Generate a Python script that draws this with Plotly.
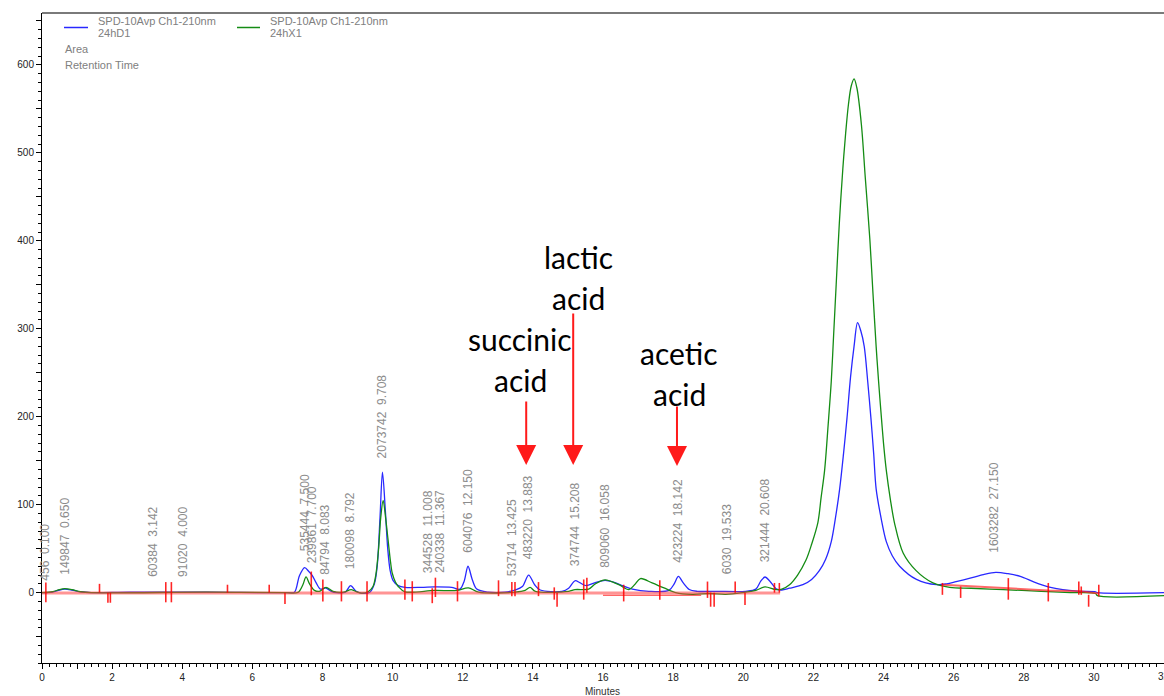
import plotly.graph_objects as go

# ---------------- data ----------------
# Blue trace: SPD-10Avp Ch1-210nm 24hD1  (time in minutes, signal)
blue_t = [0.0, 0.3, 0.5, 0.65, 0.85, 1.1, 1.4, 2.5, 4.7, 7.0, 7.2, 7.34, 7.49, 7.61, 7.70, 7.82, 7.94,
          8.08, 8.25, 8.4, 8.65, 8.8, 8.96, 9.1, 9.35, 9.48, 9.56, 9.64, 9.71, 9.79, 9.86, 9.93, 10.01,
          10.16, 10.35, 10.82, 11.2, 11.68, 11.92, 12.04, 12.15, 12.27, 12.4, 12.73, 13.2, 13.49, 13.7,
          13.88, 14.05, 14.21, 14.83, 15.02, 15.2, 15.35, 15.52, 15.78, 16.06, 16.3, 16.55, 16.84, 17.31,
          17.88, 18.03, 18.15, 18.29, 18.46, 18.69, 19.22, 20.07, 20.36, 20.5, 20.62, 20.76, 20.95, 21.1,
          21.32, 21.70, 21.95, 22.17, 22.35, 22.51, 22.63, 22.75, 22.86, 22.96, 23.06, 23.16, 23.26,
          23.35, 23.45, 23.55, 23.64, 23.72, 23.79, 23.93, 24.08, 24.25, 24.46,
          24.94, 25.51, 25.8, 26.07, 26.47, 26.85, 27.2, 27.55, 27.9, 28.3, 28.7, 28.94, 29.3, 29.6,
          30.05, 30.1, 32.0]
blue_v = [0, 0.5, 3, 4, 3, 1, 0, 0.5, 0.5, 0, 0.5, 19, 28.5, 24, 20, 11, 4,
          5.5, 1.5, 0, 0.5, 8, 1.5, -0.5, 0.5, 10, 30, 85, 137, 95, 50, 25, 14,
          8, 6, 6, 6.5, 6, 4, 13, 30, 15, 4, 0.5, 0.5, 3, 7,
          20, 9, 3, 1.5, 5, 13.5, 11, 8, 11.5, 14, 12, 8, 4, 1.5,
          2.5, 10, 18.5, 11, 3.5, 1.5, 1.5, 1.5, 4, 13, 17.8, 13, 4, 3,
          5, 9, 15, 25, 38, 58, 85, 118, 158, 199, 245, 280, 307,
          298, 280, 240, 199, 158, 118, 85, 58, 42, 30,
          15, 9, 10, 12.5, 16.5, 20.5, 23, 21.5, 18.5, 12, 6.5, 4.5, 2.5, 1.5,
          1, 0, 0]

# Green trace: SPD-10Avp Ch1-210nm 24hX1
green_t = [0.0, 0.3, 0.5, 0.65, 0.85, 1.1, 1.4, 4.7, 6.9, 7.3, 7.44, 7.53, 7.63, 7.77, 7.91, 8.1, 8.3,
           8.6, 8.82, 9.0, 9.1, 9.3, 9.44, 9.52, 9.6, 9.66, 9.73, 9.8, 9.87, 9.94, 9.99, 10.08, 10.16,
           10.35, 11.2, 11.83, 12.16, 12.45, 13.5, 13.78, 13.92, 14.07, 15.02, 15.2, 15.59, 15.78, 16.06,
           16.45, 16.74, 16.9, 17.07, 17.4, 17.74, 18.07, 18.55, 19.03, 19.5, 19.98, 20.36, 20.62, 20.93,
           21.1, 21.32, 21.55, 21.79, 21.95, 22.13, 22.22, 22.32, 22.42, 22.51, 22.58, 22.65, 22.74,
           22.84, 22.92, 23.0, 23.08, 23.16, 23.24, 23.37, 23.48, 23.61, 23.70, 23.79, 23.86, 23.94,
           24.0, 24.08, 24.2, 24.32, 24.56, 24.93, 25.41, 25.89, 26.5, 27.42, 28.5, 29.33,
           30.05, 30.1, 32.0]
green_v = [0, 1, 3.5, 4.5, 3.5, 1, 0, 0.5, 0, 0.3, 9, 18, 10, 2.6, 1.5, 6, 1.5,
           0.5, 3.4, 0.5, -0.5, 1, 7, 20, 50, 85, 105, 85, 60, 35, 22, 12, 7,
           1, 2.5, 2.5, 5.5, 0.5, 0.5, 2.5, 6, 1.5, 1.5, 3.4, 4, 10, 14.5,
           9, 3.5, 9, 16, 11, 5.3, 0, -2, -1, -2, 0, 2.6, 6.5, 3.4,
           4, 9, 20, 37, 55, 80, 108, 139, 190, 240, 295, 350, 420,
           482, 522, 555, 576, 584, 574, 532, 472, 402, 340, 280, 240, 199,
           170, 139, 105, 78, 45, 25, 11, 6, 5, 3.4, 1.5, 0,
           -1, -3.5, -3.5]

# Integration markers (time, lower end, upper end)
mark_t = [0.11, 1.64, 1.88, 1.95, 3.53, 3.69, 5.29, 6.48, 6.93, 7.68, 8.01, 8.54, 9.27, 10.35,
          10.56, 11.13, 11.22, 11.85, 13.02, 13.40, 13.49, 14.16, 14.61, 14.69, 15.45, 15.54, 16.59,
          17.62, 18.98, 19.07, 19.17, 19.77, 20.05, 20.89, 21.03, 25.68, 26.2, 27.56, 28.7, 29.57,
          29.64, 29.85, 30.14]
mark_lo = [-11, 0, -11.5, -11.5, -11, -11, 0, 0, -13, -3, -10, -10, -10, -8,
           -10, -12, -5, -10, -4, -4, -4, -4, -8, -16, -8, 0, -10,
           -8, -6, -16, -16, 0, -14, 0, 0, -2.5, -6, -8, -10, -2.5,
           -2.5, -16, -4.4]
mark_hi = [11.5, 10, 0, 0, 12, 12, 9, 9, 0, 24, 15, 13, 13, 15,
           13, 5, 17, 13, 14, 12, 12, 12, 6, 0, 15, 17, 9,
           14, 12.6, 0, 0, 12.6, 0, 11, 11, 11, 7, 16.5, 11, 12.6,
           7, -2.5, 9]

# Integration baselines
base_main_t = [0.0, 21.05]
base_main_v = [-0.5, -0.5]
base_low_t = [16.0, 18.8]
base_low_v = [-3.0, -3.0]
base_tail_t = [25.68, 27.56, 28.7, 29.6, 30.14]
base_tail_v = [9.0, 4.5, 2.5, 1.5, -1.0]

# Peak annotations: area, retention time, signal level of label foot
peak_area = ["456", "149847", "60384", "91020", "535444", "239861", "84794", "180098", "2073742",
             "344528", "240338", "604076", "53714", "483220", "374744", "809060", "423224", "6030",
             "321444", "1603282"]
peak_rt = ["0.100", "0.650", "3.142", "4.000", "7.500", "7.700", "8.083", "8.792", "9.708",
           "11.008", "11.367", "12.150", "13.425", "13.883", "15.208", "16.058", "18.142", "19.533",
           "20.608", "27.150"]
peak_label_foot = [11.3, 18.5, 15.9, 15.9, 45.4, 31.7, 18.5, 24.1, 150.8,
                   20.4, 20.4, 43.1, 16.7, 35.5, 28.0, 26.0, 31.7, 18.5,
                   31.7, 43.0]

# Compound call-outs
acid_lines = [["succinic", "acid"], ["lactic", "acid"], ["acetic", "acid"]]
acid_arrow_t = [13.81, 15.15, 18.11]

x_ticks = list(range(0, 33))
y_ticks = list(range(-50, 651, 50))

# ---------------- layout geometry (pixels) ----------------
W, H = 1164, 696
ML, MR, MT, MB = 42, 0, 13, 33
PW, PH = W - ML - MR, H - MT - MB


def px_x(px):
    return (px - ML) / PW


def px_y(py):
    return (H - MB - py) / PH


fig = go.Figure()

fig.add_trace(go.Scatter(x=blue_t, y=blue_v, mode="lines", line=dict(color="rgb(40,40,255)", width=1.3,
                                                                       shape="spline", smoothing=0.9),
                         name="24hD1", hoverinfo="skip"))
fig.add_trace(go.Scatter(x=green_t, y=green_v, mode="lines", line=dict(color="rgb(20,140,20)", width=1.3,
                                                                         shape="spline", smoothing=0.9),
                         name="24hX1", hoverinfo="skip"))

# baselines
fig.add_trace(go.Scatter(x=base_main_t, y=base_main_v, mode="lines",
                         line=dict(color="rgba(255,60,60,0.55)", width=3), hoverinfo="skip"))
fig.add_trace(go.Scatter(x=base_low_t, y=base_low_v, mode="lines",
                         line=dict(color="rgba(255,0,0,0.8)", width=1.2), hoverinfo="skip"))
fig.add_trace(go.Scatter(x=base_tail_t, y=base_tail_v, mode="lines",
                         line=dict(color="rgba(255,40,40,0.7)", width=2), hoverinfo="skip"))

mx, my = [], []
for t, lo, hi in zip(mark_t, mark_lo, mark_hi):
    mx += [t, t, None]
    my += [lo, hi, None]
fig.add_trace(go.Scatter(x=mx, y=my, mode="lines", line=dict(color="rgba(255,0,0,0.85)", width=1.6),
                         hoverinfo="skip"))

annotations = []
for a, rt, foot in zip(peak_area, peak_rt, peak_label_foot):
    annotations.append(dict(x=float(rt), y=foot, xref="x", yref="y", text=a + "\u00a0\u00a0" + rt,
                            textangle=-90, showarrow=False, xanchor="center", yanchor="bottom",
                            font=dict(family="Liberation Sans, Arial", size=12, color="#8c8c8c")))

# legend-like header
gray = "#808080"
hdr_font = dict(family="Liberation Sans, Arial", size=11, color=gray)
for txt, x, y in [("SPD-10Avp Ch1-210nm", 96, 21), ("24hD1", 96, 33),
                  ("SPD-10Avp Ch1-210nm", 268, 21), ("24hX1", 268, 33),
                  ("Area", 63, 49), ("Retention Time", 63, 65)]:
    annotations.append(dict(x=px_x(x), y=px_y(y), xref="paper", yref="paper", text=txt, showarrow=False,
                            xanchor="left", yanchor="middle", font=hdr_font))

# acid call-outs
acid_font = dict(family="Lato, Noto Sans", size=30, color="black")
acid_text_px = [(520, 339), (578, 257), (679, 353)]
arrow_px = [(400, 465), (312, 465), (405, 466)]
for lines, (cx, cy), t_arr, (ytail, ytip) in zip(acid_lines, acid_text_px, acid_arrow_t, arrow_px):
    for i, ln in enumerate(lines):
        annotations.append(dict(x=px_x(cx), y=px_y(cy + 41 * i), xref="paper", yref="paper", text=ln,
                                showarrow=False, xanchor="center", yanchor="middle", font=acid_font))
    annotations.append(dict(x=t_arr, y=px_y(ytip), xref="x", yref="paper", text="", showarrow=True,
                            ax=0, ay=-(ytip - ytail), arrowhead=2, arrowsize=2.0, arrowwidth=2,
                            arrowcolor="#ff1a1a"))

tick_font = dict(family="Liberation Sans, Arial", size=10, color="#222")

annotations.append(dict(x=px_x(602), y=px_y(691), xref="paper", yref="paper", text="Minutes",
                        showarrow=False, xanchor="center", yanchor="middle",
                        font=dict(family="Liberation Sans, Arial", size=10, color="#333")))
# last x tick label sits on the right edge of the page (cut, as in the reference)
annotations.append(dict(x=x_ticks[-1], y=px_y(676), xref="x", yref="paper", text=str(x_ticks[-1]),
                        showarrow=False, xanchor="center", yanchor="middle", font=tick_font))

shapes = [
    dict(type="line", xref="paper", yref="paper", x0=0, x1=1, y0=1, y1=1, line=dict(color="#7a7a7a", width=2)),
    dict(type="line", xref="paper", yref="paper", x0=px_x(64), x1=px_x(88), y0=px_y(27.5), y1=px_y(27.5),
         line=dict(color="rgb(40,40,255)", width=1.5)),
    dict(type="line", xref="paper", yref="paper", x0=px_x(237), x1=px_x(260), y0=px_y(27.5), y1=px_y(27.5),
         line=dict(color="rgb(20,140,20)", width=1.5)),
]

fig.update_layout(
    width=W, height=H, margin=dict(l=ML, r=MR, t=MT, b=MB),
    paper_bgcolor="white", plot_bgcolor="white", showlegend=False,
    annotations=annotations, shapes=shapes,
    xaxis=dict(range=[0, 32], tickvals=x_ticks, ticktext=[str(v) if v % 2 == 0 else "" for v in x_ticks],
               ticks="outside", ticklen=5, tickwidth=1, tickcolor="black", showline=True, linecolor="black",
               linewidth=1, showgrid=False, zeroline=False, tickfont=tick_font,
               minor=dict(dtick=0.2, ticks="outside", ticklen=3, tickcolor="black", showgrid=False)),
    yaxis=dict(range=[-80, 659], tickvals=y_ticks,
               ticktext=[str(v) if (v % 100 == 0 and 0 <= v <= 600) else "" for v in y_ticks],
               ticks="outside", ticklen=5, tickwidth=1, tickcolor="black", showline=True, linecolor="black",
               linewidth=1, showgrid=False, zeroline=False, tickfont=tick_font,
               minor=dict(dtick=10, ticks="outside", ticklen=3, tickcolor="black", showgrid=False)),
)

fig.write_html("out.html")
